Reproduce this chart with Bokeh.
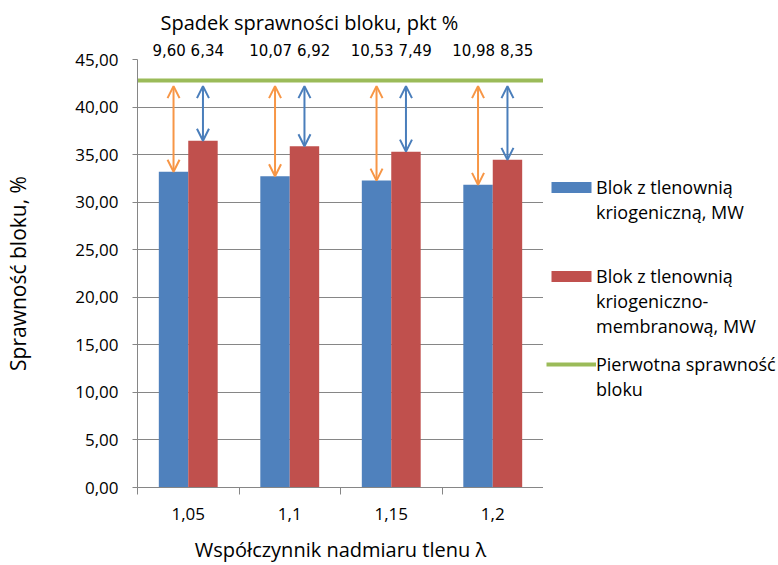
import numpy as np
from bokeh.plotting import figure
from bokeh.layouts import row
from bokeh.models import (Range1d, FixedTicker, Arrow, OpenHead, ColumnDataSource,
                          LinearAxis, Legend, LegendItem)
from bokeh.core.properties import value
from bokeh.embed import file_html
from bokeh.resources import INLINE

# ---- data ----
categories = ["1,05", "1,1", "1,15", "1,2"]
blok_kriogeniczna = [33.20, 32.73, 32.27, 31.82]
blok_kriog_membranowa = [36.46, 35.88, 35.31, 34.45]
spadek_kriogeniczna = [9.60, 10.07, 10.53, 10.98]
spadek_membranowa = [6.34, 6.92, 7.49, 8.35]
pierwotna_sprawnosc = 42.80
y_ticks = [0, 5, 10, 15, 20, 25, 30, 35, 40, 45]

series1_lines = ["Blok z tlenownią", "kriogeniczną, MW"]
series2_lines = ["Blok z tlenownią", "kriogeniczno-", "membranową, MW"]
series3_lines = ["Pierwotna sprawność", "bloku"]

BLUE = "#4F81BD"
RED = "#C0504D"
GREEN = "#9BBB59"
ORANGE = "#F79646"
ARROW_BLUE = "#4A7EBB"
AXIS = "#868686"
FONT = "Open Sans"
TXT = "#000000"

def fmt(v):
    return f"{v:.2f}".replace(".", ",")

n = len(categories)
centers = np.arange(n) + 0.5
bw = 0.29
blue_x = centers - bw / 2
red_x = centers + bw / 2

p = figure(width=543, height=565, x_range=Range1d(0, n), y_range=Range1d(y_ticks[0], y_ticks[-1]),
           output_backend="svg", toolbar_location=None,
           title="Spadek sprawności bloku, pkt %",
           min_border_left=137, min_border_right=0, min_border_top=59, min_border_bottom=77)
p.outline_line_color = None
p.xgrid.visible = False
p.ygrid.grid_line_color = AXIS
p.ygrid.grid_line_width = 1
p.title.align = "left"
p.title.offset = 23
p.title.text_font = FONT
p.title.text_font_size = "20px"
p.title.text_font_style = "normal"
p.title.text_color = TXT
p.title.standoff = 6

# y axis
p.yaxis.ticker = FixedTicker(ticks=y_ticks, minor_ticks=[])
p.yaxis.major_label_overrides = {t: fmt(t) for t in y_ticks}
p.yaxis.axis_line_color = AXIS
p.yaxis.major_tick_line_color = AXIS
p.yaxis.major_tick_out = 5
p.yaxis.major_tick_in = 0
p.yaxis.minor_tick_line_color = None
p.yaxis.major_label_standoff = 14
p.yaxis.major_label_text_font = FONT
p.yaxis.major_label_text_font_size = "17px"
p.yaxis.major_label_text_color = TXT
p.yaxis.axis_label = "Sprawność bloku, %"
p.yaxis.axis_label_text_font = FONT
p.yaxis.axis_label_text_font_size = "21px"
p.yaxis.axis_label_text_font_style = "normal"
p.yaxis.axis_label_text_color = TXT
p.yaxis.axis_label_standoff = 40

# x axis
p.xaxis.ticker = FixedTicker(ticks=list(centers), minor_ticks=list(np.arange(n + 1)))
p.xaxis.major_label_overrides = {float(c): cat for c, cat in zip(centers, categories)}
p.xaxis.axis_line_color = AXIS
p.xaxis.major_tick_out = 0
p.xaxis.major_tick_in = 0
p.xaxis.minor_tick_line_color = AXIS
p.xaxis.minor_tick_out = 7
p.xaxis.minor_tick_in = 0
p.xaxis.major_label_standoff = 13
p.xaxis.major_label_text_font = FONT
p.xaxis.major_label_text_font_size = "17px"
p.xaxis.major_label_text_color = TXT
p.xaxis.axis_label = "Współczynnik nadmiaru tlenu λ"
p.xaxis.axis_label_text_font = FONT
p.xaxis.axis_label_text_font_size = "20px"
p.xaxis.axis_label_text_font_style = "normal"
p.xaxis.axis_label_text_color = TXT
p.xaxis.axis_label_standoff = 13

# drop values as a label-only axis above the plot
drop_text = [f"{fmt(a)} {fmt(b)}" for a, b in zip(spadek_kriogeniczna, spadek_membranowa)]
top_axis = LinearAxis(ticker=FixedTicker(ticks=list(centers), minor_ticks=[]),
                      major_label_overrides={float(c): t for c, t in zip(centers, drop_text)},
                      axis_line_color=None, major_tick_line_color=None, minor_tick_line_color=None,
                      major_tick_out=0, major_tick_in=0, major_label_standoff=0,
                      major_label_text_font="DejaVu Sans", major_label_text_font_size="15px",
                      major_label_text_color=TXT)
p.add_layout(top_axis, "above")

# bars and baseline efficiency
p.vbar(x=blue_x, top=blok_kriogeniczna, width=bw, fill_color=BLUE, line_color=None)
p.vbar(x=red_x, top=blok_kriog_membranowa, width=bw, fill_color=RED, line_color=None)
p.hspan(y=[pierwotna_sprawnosc], line_color=GREEN, line_width=4)

# double arrows: drop from baseline to each bar
arrow_top = [pierwotna_sprawnosc - 0.6] * n
src_o = ColumnDataSource(dict(x=blue_x, y0=blok_kriogeniczna, y1=arrow_top))
src_b = ColumnDataSource(dict(x=red_x, y0=blok_kriog_membranowa, y1=arrow_top))
for src, col in ((src_o, ORANGE), (src_b, ARROW_BLUE)):
    p.add_layout(Arrow(start=OpenHead(size=12, line_color=col, line_width=2),
                       end=OpenHead(size=12, line_color=col, line_width=2),
                       x_start="x", y_start="y0", x_end="x", y_end="y1",
                       source=src, line_color=col, line_width=2))

# ---- legend panel (frame aligned with the chart's frame by the row layout) ----
q = figure(width=235, height=565, x_range=Range1d(0, 1), y_range=Range1d(0, 1),
           output_backend="svg", toolbar_location=None,
           x_axis_location=None, y_axis_location=None,
           min_border_left=0, min_border_right=0, min_border_top=59, min_border_bottom=77)
q.outline_line_color = None
q.grid.visible = False
nan = [float("nan")]
lg_blue = q.vbar(x=nan, top=nan, width=1, fill_color=BLUE, line_color=None)
lg_red = q.vbar(x=nan, top=nan, width=1, fill_color=RED, line_color=None)
lg_green = q.line(x=nan, y=nan, line_color=GREEN, line_width=4)
lg_blank = q.vbar(x=nan, top=nan, width=1, fill_alpha=0, line_alpha=0)

def mk_legend(lines, rend, vy):
    items = [LegendItem(label=value(lines[0]), renderers=[rend])] + \
            [LegendItem(label=value(t), renderers=[lg_blank]) for t in lines[1:]]
    return Legend(items=items, location=(3, vy), orientation="vertical", padding=0, margin=0,
                  spacing=0, glyph_width=50, glyph_height=14, label_height=25, label_standoff=0,
                  label_text_font=FONT, label_text_font_size="18px", label_text_color=TXT,
                  label_text_baseline="middle",
                  border_line_alpha=0, background_fill_alpha=0, inactive_fill_alpha=0)

q.add_layout(mk_legend(series1_lines, lg_blue, 262.5))
q.add_layout(mk_legend(series2_lines, lg_red, 148.5))
q.add_layout(mk_legend(series3_lines, lg_green, 85.5))

layout = row(p, q)
open("out.html", "w").write(file_html(layout, INLINE))
